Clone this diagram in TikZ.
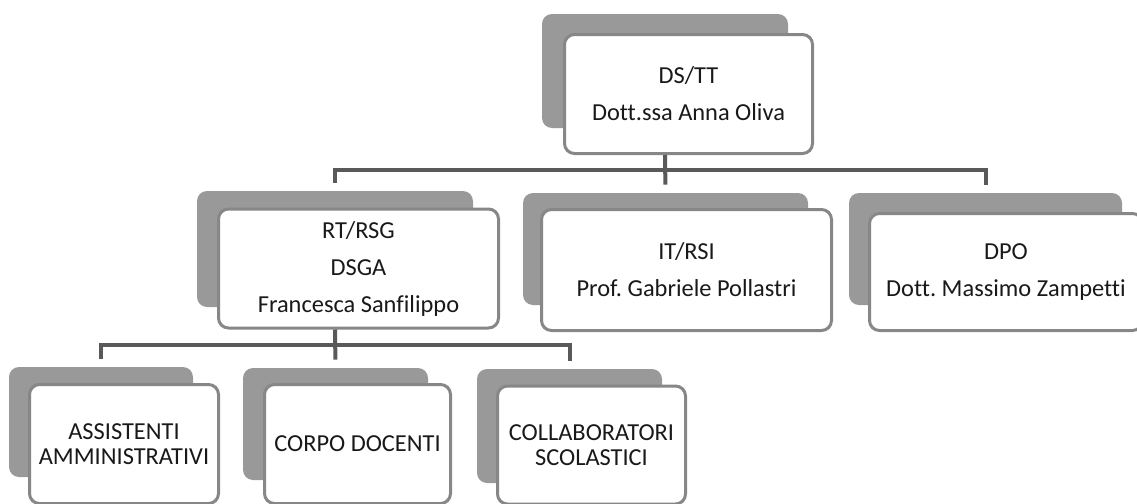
\documentclass[tikz,border=0pt]{standalone}
\usepackage{fontspec}
\setmainfont{Carlito}[Ligatures=NoCommon]
\usepackage{tikz}
\usetikzlibrary{positioning}
\frenchspacing

\begin{document}
\begin{tikzpicture}
        [
        x=0.5pt, y=-0.5pt,
        every node/.style={inner sep=0pt, align=center, text=black!90,
          font=\fontsize{12.2}{18.5}\selectfont},
        backbox/.style={fill=black!40, rounded corners=5pt},
        frontbox/.style={draw=black!47, line width=1.5pt, fill=white, rounded corners=5pt},
        lowtext/.style={font=\fontsize{12.2}{12.5}\selectfont},
        link/.style={draw=black!65, line width=2pt, shorten >=4pt}
        ]
        \useasboundingbox (0,0) rectangle (1137,504);
        % Root node
        \node[backbox, minimum width=123pt, minimum height=57pt] (ds-b) at (665,71) {};
        \node[frontbox, minimum width=124pt, minimum height=59.5pt] (ds) at (688.5,94)
          {DS/TT\\Dott.ssa Anna Oliva};
        % Level 1: children nodes
        \node[backbox, minimum width=138pt, minimum height=58pt] (rt-b) at (335,249) {};
        \node[frontbox, minimum width=140pt, minimum height=59.5pt] (rt) at (358.5,268.5)
          {RT/RSG\\DSGA\\Francesca Sanfilippo};
        \node[backbox, minimum width=142.5pt, minimum height=56pt] (it-b) at (665.5,249) {};
        \node[frontbox, minimum width=145pt, minimum height=60.5pt] (it) at (686.5,270)
          {IT/RSI\\Prof. Gabriele Pollastri};
        \node[backbox, minimum width=136.5pt, minimum height=56pt] (dpo-b) at (985.5,249) {};
        \node[frontbox, minimum width=136.5pt, minimum height=58.5pt] (dpo) at (1006,272)
          {DPO\\Dott. Massimo Zampetti};
        % Level 2: staff nodes
        \node[backbox, minimum width=92pt, minimum height=55pt] (as-b) at (101,422) {};
        \node[frontbox, lowtext, minimum width=94.5pt, minimum height=59.5pt] (as) at (124,444)
          {ASSISTENTI\\AMMINISTRATIVI};
        \node[backbox, minimum width=92.5pt, minimum height=56pt] (co-b) at (335.5,424) {};
        \node[frontbox, lowtext, minimum width=93pt, minimum height=59.5pt] (co) at (357.5,444)
          {CORPO DOCENTI};
        \node[backbox, minimum width=92.5pt, minimum height=57pt] (cs-b) at (569.5,426) {};
        \node[frontbox, lowtext, minimum width=94pt, minimum height=59pt] (cs) at (591.5,445)
          {COLLABORATORI\\SCOLASTICI};
        % Connectors
        \coordinate (bus1) at ([yshift=-7.5pt]ds.south -| ds-b);
        \coordinate (bus2) at ([yshift=-7.5pt]rt.south -| rt-b);
        \draw[link] (ds-b |- ds.south) -- (it-b.north);
        \draw[link] (bus1) -| (rt-b.north);
        \draw[link] (bus1) -| (dpo-b.north);
        \draw[link] (rt-b |- rt.south) -- (co-b.north);
        \draw[link] (bus2) -| (as-b.north);
        \draw[link] (bus2) -| (cs-b.north);
    \end{tikzpicture}
\end{document}
